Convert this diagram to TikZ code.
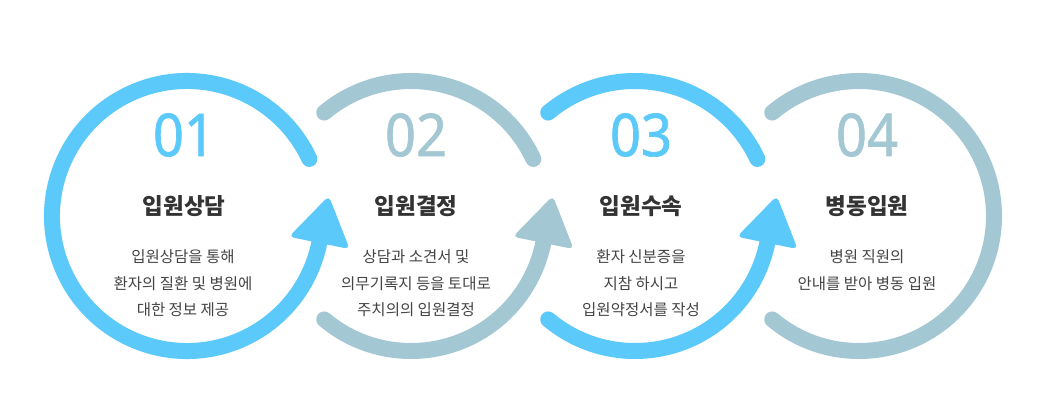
\documentclass[tikz,border=0pt]{standalone}
\usepackage{fontspec}
\setmainfont{Noto Sans CJK KR}
\newfontfamily\digitfont[FakeBold=1.2]{Noto Sans}
\usetikzlibrary{calc}
\definecolor{ringblue}{HTML}{5BC9FA}
\definecolor{ringgrey}{HTML}{A3C8D3}
\definecolor{titlegrey}{HTML}{333333}
\definecolor{bodygrey}{HTML}{444444}
\newcommand\ringarrow[2]{%
  \fill[#2, rounded corners=5pt]
    ($(#1)+(348.5:135pt)+(348.5:31pt)$) --
    ($(#1)+(348.5:135pt)+(78.5:48pt)$) --
    ($(#1)+(348.5:135pt)+(168.5:31pt)$) -- cycle;}
\begin{document}
\begin{tikzpicture}[x=1pt,y=1pt,
  ring/.style={line width=16pt, line cap=round},
  num/.style={font=\digitfont\fontsize{59}{59}\selectfont, inner sep=0pt, xscale=0.92},
  ttl/.style={font=\fontsize{22.5}{27}\selectfont\bfseries, text=titlegrey, inner sep=0pt},
  body/.style={font=\fontsize{15.5}{26.5}\selectfont, text=bodygrey, align=center, inner sep=0pt}]
\useasboundingbox (0,0) rectangle (1040,415);
\fill[white] (0,0) rectangle (1040,415);

\coordinate (c1) at (187,199);
\coordinate (c2) at (411,199);
\coordinate (c3) at (635,199);
\coordinate (c4) at (859,199);

% ring 1
\draw[ring, ringblue] ($(c1)+(25:135pt)$) arc[start angle=25, end angle=348.5, radius=135pt];
\ringarrow{c1}{ringblue}
% ring 2
\draw[ring, ringgrey] ($(c2)+(25:135pt)$) arc[start angle=25, end angle=130, radius=135pt];
\draw[ring, ringgrey] ($(c2)+(230:135pt)$) arc[start angle=230, end angle=348.5, radius=135pt];
\ringarrow{c2}{ringgrey}
% ring 3
\draw[ring, ringblue] ($(c3)+(25:135pt)$) arc[start angle=25, end angle=130, radius=135pt];
\draw[ring, ringblue] ($(c3)+(230:135pt)$) arc[start angle=230, end angle=348.5, radius=135pt];
\ringarrow{c3}{ringblue}
% ring 4
\draw[ring, ringgrey] ($(c4)+(230:135pt)$) arc[start angle=230, end angle=490, radius=135pt];

% texts
\node[num, text=ringblue] (n1) at (184,280) {01};
\node[ttl] (t1) at (184,209) {입원상담};
\node[body] (b1) at (183,131.5) {입원상담을 통해\\환자의 질환 및 병원에\\대한 정보 제공};

\node[num, text=ringgrey] (n2) at (416,280) {02};
\node[ttl] (t2) at (416,209) {입원결정};
\node[body] (b2) at (416,131.5) {상담과 소견서 및\\의무기록지 등을 토대로\\주치의의 입원결정};

\node[num, text=ringblue] (n3) at (641,280) {03};
\node[ttl] (t3) at (641,209) {입원수속};
\node[body] (b3) at (641,131.5) {환자 신분증을\\지참 하시고\\입원약정서를 작성};

\node[num, text=ringgrey] (n4) at (867,280) {04};
\node[ttl] (t4) at (867,209) {병동입원};
\node[body] (b4) at (867,145) {병원 직원의\\안내를 받아 병동 입원};
\end{tikzpicture}
\end{document}
